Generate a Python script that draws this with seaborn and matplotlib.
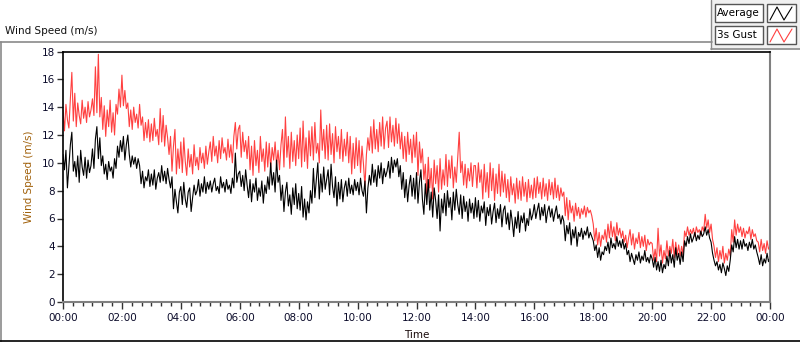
import numpy as np
import pandas as pd
import matplotlib
matplotlib.use("Agg")
import matplotlib.pyplot as plt
from matplotlib.lines import Line2D
from matplotlib.patches import Rectangle
from matplotlib.ticker import MultipleLocator, FuncFormatter
import seaborn as sns

# wind speed (m/s), one value every 3 minutes, 00:00 -> 24:00 (one row per hour)
average = [
    10.6, 9.5, 10.9, 8.2, 9.8, 11.3, 12.2, 9.4, 10.1, 9.0, 10.5, 8.6, 10.9, 9.7, 9.1, 10.4, 8.9, 10.2, 9.3, 9.8,
    11.0, 9.6, 11.7, 12.6, 10.3, 11.8, 9.8, 10.5, 9.2, 9.9, 8.8, 10.1, 9.4, 9.7, 8.9, 10.3, 9.6, 11.2, 10.4, 11.6,
    10.8, 11.9, 10.2, 11.3, 12.0, 10.6, 9.7, 10.5, 9.9, 10.4, 9.6, 10.3, 9.8, 8.5, 9.4, 8.2, 9.0, 8.7, 9.5, 8.3,
    9.2, 8.4, 9.5, 8.1, 8.9, 9.3, 8.6, 9.8, 8.7, 9.4, 8.5, 9.6, 8.8, 8.2, 9.0, 6.7, 8.1, 7.2, 6.4, 7.9,
    8.3, 7.0, 8.6, 7.4, 6.8, 7.9, 8.2, 6.5, 7.5, 8.4, 7.7, 8.0, 8.8, 7.6, 8.5, 7.9, 9.0, 7.8, 8.6, 8.1,
    8.7, 7.9, 8.5, 8.9, 8.0, 8.3, 7.8, 9.0, 8.2, 8.6, 7.9, 8.8, 8.1, 8.4, 7.8, 8.9, 8.2, 10.7, 8.6, 9.2,
    9.4, 8.3, 9.1, 8.0, 9.5, 8.4, 7.5, 8.8, 7.2, 8.5, 7.9, 8.9, 7.3, 8.2, 7.6, 8.7, 7.1, 8.4, 7.8, 9.0,
    8.1, 10.0, 8.4, 9.3, 7.9, 10.2, 8.6, 9.1, 7.3, 8.4, 6.5, 7.9, 8.6, 6.9, 7.7, 6.3, 8.2, 7.0, 8.5, 6.7,
    7.8, 6.6, 8.3, 6.1, 7.4, 5.9, 7.2, 6.4, 8.0, 7.1, 9.6, 7.5, 8.8, 10.0, 7.4, 9.2, 7.9, 9.7, 8.1, 8.8,
    9.5, 7.7, 9.9, 8.3, 7.5, 9.0, 6.9, 8.6, 7.4, 8.8, 7.2, 8.2, 8.7, 7.6, 8.9, 7.8, 8.4, 7.7, 8.8, 8.0,
    8.6, 7.7, 8.9, 8.0, 7.6, 8.7, 6.4, 8.2, 9.1, 8.4, 9.9, 8.6, 9.5, 8.3, 9.8, 8.9, 10.0, 8.5, 9.6, 9.0,
    9.4, 10.1, 8.9, 10.4, 9.3, 10.2, 9.7, 10.3, 9.0, 9.8, 8.1, 9.3, 7.5, 8.8, 7.2, 8.4, 9.1, 7.6, 8.9, 7.4,
    9.3, 7.1, 8.6, 9.5, 7.4, 6.3, 8.5, 7.0, 8.8, 6.6, 7.9, 6.1, 8.2, 7.3, 6.0, 7.7, 5.1, 7.4, 6.4, 7.8,
    6.2, 8.0, 6.8, 7.5, 5.9, 7.9, 6.6, 8.1, 7.0, 6.3, 7.7, 6.0, 7.6, 6.5, 7.2, 5.8, 7.4, 6.4, 7.1, 6.0,
    7.5, 6.1, 7.3, 5.8, 6.9, 6.4, 7.2, 5.5, 6.8, 6.2, 7.0, 5.6, 6.5, 7.1, 5.7, 6.7, 6.0, 7.0, 5.4, 6.6,
    6.9, 5.6, 6.4, 5.2, 6.6, 5.8, 4.7, 6.1, 5.3, 6.5, 5.0, 6.2, 5.7, 6.4, 5.1, 6.0, 5.5, 6.7, 5.9, 6.3,
    7.0, 6.0, 6.6, 7.1, 5.9, 6.8, 6.2, 7.0, 5.7, 6.5, 6.9, 6.1, 6.7, 5.8, 6.4, 6.9, 6.0, 6.3, 5.6, 6.2,
    5.8, 4.4, 5.5, 4.9, 5.7, 4.1, 5.2, 4.6, 5.4, 4.0, 5.0, 4.7, 5.3, 4.5, 5.1, 4.8, 5.4, 4.6, 5.0, 4.7,
    4.4, 3.7, 4.1, 3.2, 3.9, 3.0, 3.6, 3.4, 4.0, 3.7, 4.3, 3.5, 4.6, 3.9, 4.2, 3.8, 4.7, 4.0, 4.4, 3.9,
    4.5, 3.8, 4.2, 3.4, 3.7, 2.9, 3.5, 3.1, 2.7, 3.4, 3.0, 3.6, 2.8, 3.3, 3.0, 3.7, 2.9, 3.2, 2.8, 3.4,
    3.1, 2.5, 3.2, 2.3, 2.9, 2.2, 3.0, 2.1, 2.7, 2.4, 3.3, 2.6, 3.7, 2.8, 3.4, 2.5, 3.9, 3.0, 3.5, 2.7,
    3.6, 2.9, 4.4, 4.0, 4.7, 4.2, 4.9, 4.3, 4.6, 5.0, 4.4, 4.8, 4.5, 5.1, 4.7, 4.9, 5.4, 4.8, 5.2, 4.6,
    4.3, 3.5, 3.0, 2.6, 2.9, 2.3, 2.7, 2.1, 2.8, 2.4, 1.9, 2.6, 2.2, 3.0, 4.1, 3.6, 4.7, 3.9, 4.5, 3.8,
    4.4, 3.8, 4.5, 4.0, 4.2, 3.7, 4.3, 3.9, 4.5, 3.8, 4.1, 3.6, 3.2, 2.7, 3.4, 2.6, 3.1, 2.8, 3.5, 2.9,
    3.2,
]

gust = [
    13.8, 12.3, 14.2, 13.1, 12.5, 14.6, 16.5, 13.0, 15.0, 12.6, 14.3, 13.4, 12.8, 14.5, 13.2, 14.0, 12.9, 14.4, 13.3, 13.8,
    14.6, 13.4, 16.9, 13.6, 17.8, 13.3, 14.7, 12.4, 14.1, 11.9, 13.8, 12.6, 14.5, 12.2, 13.6, 12.0, 14.2, 13.5, 15.3, 14.0,
    16.3, 14.1, 15.2, 13.9, 14.3, 12.6, 13.8, 12.4, 14.0, 12.9, 13.5, 12.5, 14.2, 12.7, 13.3, 11.6, 12.9, 11.8, 13.1, 11.5,
    12.8, 11.6, 13.2, 11.9, 12.4, 11.3, 13.9, 11.5, 13.4, 11.2, 12.7, 11.8, 10.6, 11.9, 9.4, 11.2, 12.4, 9.2, 11.0, 9.6,
    11.5, 9.3, 11.8, 10.1, 9.1, 11.0, 9.7, 10.6, 9.2, 11.3, 9.8, 10.4, 9.5, 11.1, 10.0, 10.7, 9.6, 11.2, 9.9, 10.8,
    11.5, 10.1, 11.9, 10.5, 11.2, 10.0, 11.6, 10.3, 11.8, 10.7, 11.1, 10.2, 11.7, 10.4, 11.3, 10.0, 11.9, 12.9, 11.0, 12.4,
    12.7, 10.4, 12.2, 10.8, 11.6, 10.3, 11.9, 9.5, 11.2, 9.1, 11.6, 9.8, 10.9, 9.3, 11.9, 10.1, 11.0, 9.4, 11.5, 9.7,
    11.4, 9.6, 11.1, 10.2, 11.5, 9.8, 10.9, 9.5, 11.3, 12.4, 9.7, 13.3, 10.4, 11.9, 9.6, 12.2, 10.1, 11.6, 9.8, 12.0,
    10.3, 12.5, 9.7, 13.0, 10.1, 11.8, 9.6, 12.3, 10.5, 12.6, 10.2, 12.9, 10.7, 11.4, 10.0, 13.8, 10.9, 12.4, 10.3, 12.7,
    10.2, 12.8, 10.6, 12.1, 10.0, 12.6, 10.8, 11.9, 10.3, 12.4, 10.1, 11.7, 10.5, 12.2, 10.0, 11.9, 9.2, 11.4, 9.6, 11.8,
    9.8, 11.6, 9.3, 11.2, 9.9, 8.3, 10.6, 11.8, 10.9, 12.6, 10.7, 13.1, 11.0, 12.4, 10.8, 12.9, 11.2, 13.3, 11.0, 12.5,
    13.0, 11.1, 13.3, 11.5, 12.7, 11.2, 13.2, 11.4, 12.8, 11.0, 12.2, 10.3, 11.9, 10.1, 12.2, 10.6, 11.7, 10.0, 12.0, 10.4,
    12.2, 9.1, 11.5, 10.0, 11.0, 8.8, 9.9, 7.6, 10.4, 8.2, 9.6, 7.4, 10.2, 8.5, 9.8, 7.9, 10.3, 8.1, 9.5, 8.4,
    10.6, 8.3, 10.2, 8.9, 10.5, 8.2, 9.7, 8.6, 10.4, 12.2, 9.3, 10.1, 8.4, 9.9, 8.2, 9.6, 8.7, 10.0, 8.3, 9.8,
    9.8, 8.2, 10.0, 8.6, 9.5, 7.4, 9.9, 7.9, 9.3, 7.5, 10.0, 8.0, 9.6, 7.3, 9.2, 7.8, 9.9, 7.6, 9.4, 7.9,
    9.2, 7.5, 8.8, 7.2, 9.0, 7.7, 8.5, 7.1, 8.9, 7.4, 8.7, 7.3, 9.0, 7.6, 8.6, 7.2, 8.8, 7.5, 8.4, 7.4,
    8.9, 7.5, 9.0, 7.8, 8.6, 7.4, 8.9, 7.6, 8.5, 7.3, 8.8, 7.7, 8.6, 7.4, 8.9, 7.5, 8.4, 7.3, 8.2, 7.6,
    7.9, 6.2, 7.5, 5.9, 7.3, 6.4, 6.9, 5.8, 7.1, 6.2, 6.8, 6.0, 6.7, 6.3, 6.9, 6.1, 6.8, 6.4, 6.6, 6.2,
    5.6, 4.4, 5.3, 4.1, 5.0, 4.0, 4.8, 4.5, 5.2, 4.3, 5.6, 4.6, 5.8, 4.7, 5.4, 4.4, 5.7, 4.8, 5.3, 4.6,
    5.1, 4.3, 4.8, 3.9, 4.6, 5.2, 4.1, 4.9, 3.8, 4.6, 4.2, 5.0, 3.9, 4.7, 4.0, 4.8, 3.7, 4.5, 4.1, 4.3,
    4.2, 3.0, 3.8, 2.9, 5.3, 3.3, 4.1, 2.8, 3.7, 3.1, 4.4, 3.3, 4.0, 3.5, 4.5, 3.2, 4.3, 3.4, 4.1, 3.3,
    4.0, 3.4, 5.1, 4.7, 5.4, 4.8, 5.2, 4.9, 5.3, 4.7, 5.4, 5.0, 5.2, 4.8, 5.4, 5.1, 6.3, 5.3, 5.9, 5.0,
    5.6, 4.5, 4.0, 3.2, 3.9, 2.9, 3.7, 3.1, 4.0, 2.8, 3.5, 3.0, 3.8, 3.3, 5.2, 4.3, 5.9, 4.8, 5.6, 5.0,
    5.4, 4.7, 5.3, 4.6, 5.1, 4.9, 5.4, 4.5, 5.2, 4.7, 4.9, 4.4, 4.3, 3.6, 4.5, 3.7, 4.2, 3.5, 4.4, 3.8,
    4.0,
]

series_names = ["Average", "3s Gust"]
series_colors = {"Average": "#000000", "3s Gust": "#FF4040"}
tick_color = "#0b0b2a"

hours = np.arange(len(average)) * 3 / 60.0
df = pd.concat([
    pd.DataFrame({"hour": hours, "speed": gust, "series": "3s Gust"}),
    pd.DataFrame({"hour": hours, "speed": average, "series": "Average"}),
])

sns.set_style("white")
plt.rcParams["font.family"] = ["DejaVu Sans"]

fig = plt.figure(figsize=(8, 3.42), dpi=100)
W, H = 800, 342

ax = fig.add_axes([63 / W, (H - 302) / H, (770 - 63) / W, (302 - 51.5) / H])
sns.lineplot(data=df, x="hour", y="speed", hue="series",
             hue_order=["3s Gust", "Average"], palette=series_colors,
             linewidth=0.8, legend=False, ax=ax, estimator=None, sort=False)

ax.set_xlim(0, 24)
ax.set_ylim(0, 18)
ax.xaxis.set_major_locator(MultipleLocator(2))
ax.xaxis.set_minor_locator(MultipleLocator(1 / 3))
ax.yaxis.set_major_locator(MultipleLocator(2))
ax.xaxis.set_major_formatter(FuncFormatter(lambda v, p: "%02d:00" % (int(round(v)) % 24)))
ax.tick_params(axis="x", which="major", length=5, width=1, color="#333333",
               labelsize=7.5, labelcolor=tick_color, pad=3, bottom=True)
ax.tick_params(axis="x", which="minor", length=3, width=1, color="#333333", bottom=True)
ax.tick_params(axis="y", which="major", length=4, width=1, color="#333333",
               labelsize=7.5, labelcolor=tick_color, pad=2, left=True)

ax.set_xlabel("Time", fontsize=7.5, color="#1a0a0a", labelpad=5)
ax.set_ylabel("Wind Speed (m/s)", fontsize=7.5, color="#a0600a", labelpad=5)

for side in ["left", "top"]:
    ax.spines[side].set_color("black")
    ax.spines[side].set_linewidth(1.2)
for side in ["right", "bottom"]:
    ax.spines[side].set_color("#808080")
    ax.spines[side].set_linewidth(1.5)

# panel frame and title (LabVIEW style)
fig.add_artist(Line2D([0, 712 / W], [(H - 42) / H] * 2, color="#8a8a8a", lw=1.2))
fig.add_artist(Line2D([0.5 / W] * 2, [0, (H - 42) / H], color="#8a8a8a", lw=1.2))
fig.add_artist(Line2D([0, 1], [1 / H] * 2, color="black", lw=1.2))
fig.text(5 / W, (H - 31) / H, "Wind Speed (m/s)", fontsize=7.5, color="#111111",
         va="center", ha="left")

# legend panel
fig.add_artist(Rectangle((711 / W, (H - 49) / H), 89 / W, 49 / H, facecolor="#f0f0f0",
                         edgecolor="none", transform=fig.transFigure))
fig.add_artist(Line2D([711 / W] * 2, [(H - 49) / H, 1], color="#8a8a8a", lw=1))
fig.add_artist(Line2D([711 / W, 1], [(H - 49) / H] * 2, color="#8a8a8a", lw=1.2))
for i, name in enumerate(series_names):
    top = 4 + i * 22
    fig.add_artist(Rectangle((715 / W, (H - top - 18) / H), 48 / W, 18 / H,
                             facecolor="white", edgecolor="#555555", lw=1,
                             transform=fig.transFigure))
    fig.text(717 / W, (H - top - 9) / H, name, fontsize=7.5, color="black",
             va="center", ha="left")
    fig.add_artist(Rectangle((767 / W, (H - top - 18) / H), 29 / W, 18 / H,
                             facecolor="white", edgecolor="#555555", lw=1,
                             transform=fig.transFigure))
    zx = np.array([770, 777, 784, 792]) / W
    zy = (H - top - np.array([16, 3, 16, 3])) / H
    fig.add_artist(Line2D(zx, zy, color=series_colors[name], lw=0.8))

fig.savefig("out.png", dpi=100, facecolor="white")
